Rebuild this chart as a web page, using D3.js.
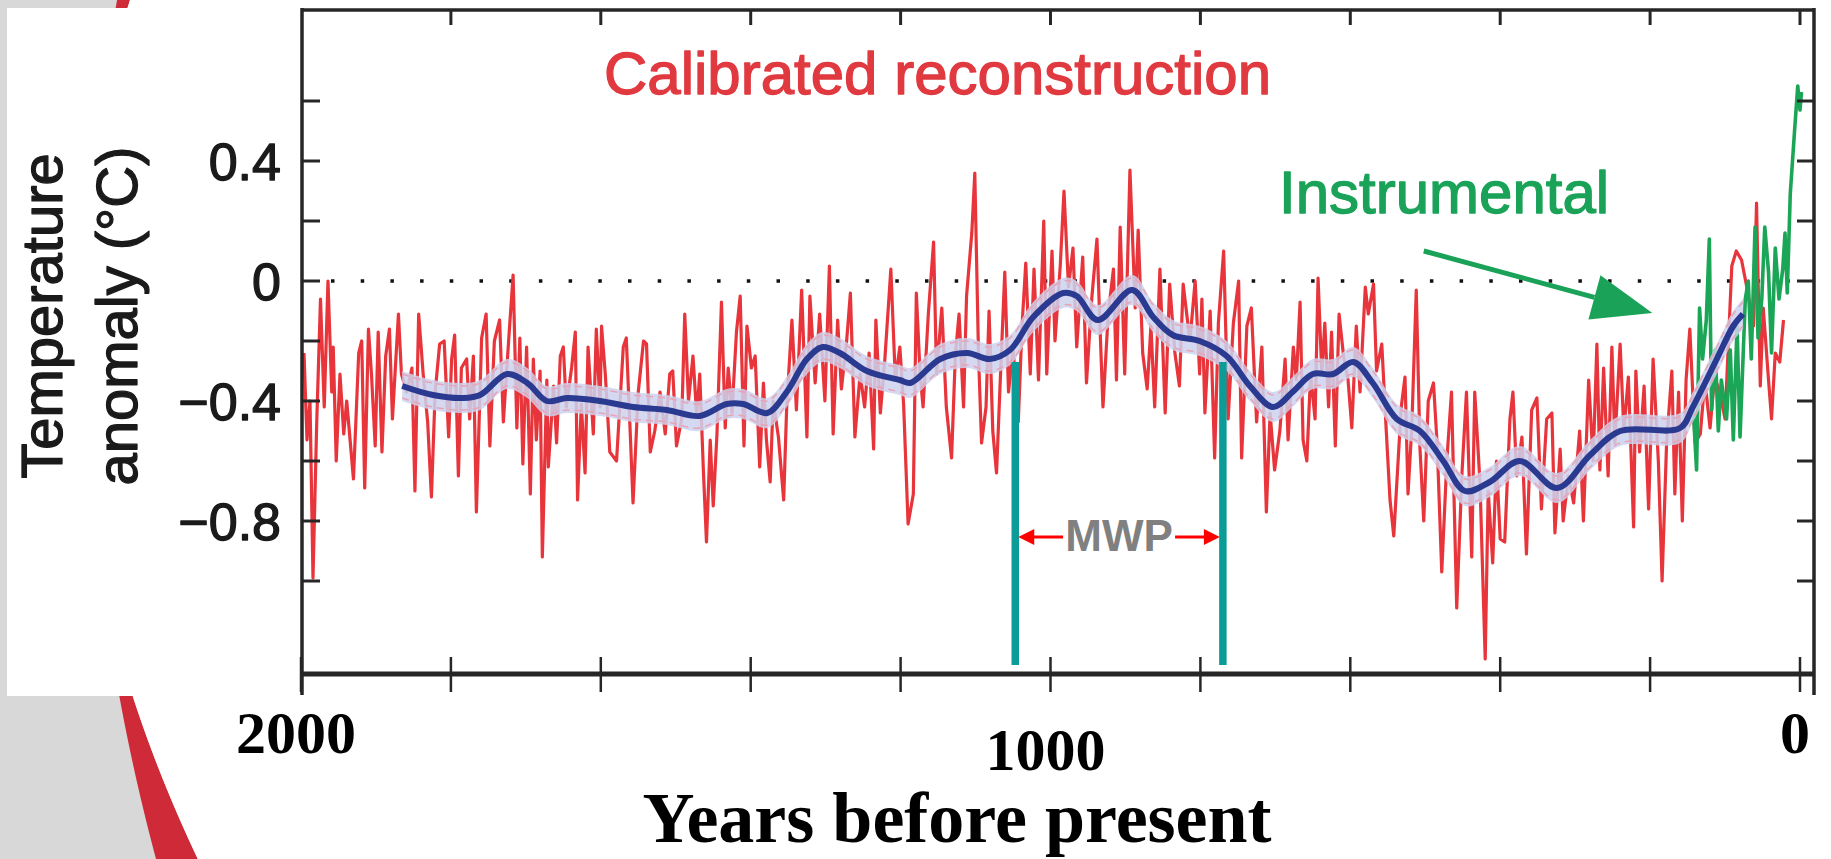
<!DOCTYPE html>
<html lang="en">
<head>
    <meta charset="UTF-8">
    <title>Calibrated reconstruction - years before present</title>
    <script src="https://d3js.org/d3.v7.min.js"></script>
    <style>
        body { margin: 0; overflow: hidden; background: #fff; }
        svg { display: block; }
        text { font-family: "Liberation Sans", Arial, Helvetica, sans-serif; }
        .serif { font-family: "Liberation Serif", "Times New Roman", serif; font-weight: bold; }
        .heavy { stroke-width: 1.3px; paint-order: stroke; stroke-linejoin: round; }
    </style>
</head>
<body>
<div id="chart"></div>

<script>
    // Size of the slide
    const width = 1831;
    const height = 859;

    // Annual reconstruction (years before present, anomaly in °C)
    const recon = [
        [1996,-0.24],[1992,-0.53],[1988,-0.40],[1984,-0.99],[1979,-0.47],[1974,-0.06],[1969,-0.42],[1964,0.00],[1959,-0.37],[1957,-0.22],
        [1953,-0.60],[1948,-0.31],[1943,-0.51],[1939,-0.40],[1930,-0.66],[1923,-0.24],[1919,-0.20],[1915,-0.69],[1910,-0.16],[1906,-0.31],
        [1901,-0.55],[1897,-0.17],[1892,-0.57],[1887,-0.25],[1882,-0.16],[1878,-0.46],[1870,-0.11],[1866,-0.31],[1859,-0.37],[1852,-0.29],
        [1848,-0.70],[1843,-0.11],[1837,-0.31],[1831,-0.47],[1826,-0.72],[1821,-0.37],[1815,-0.21],[1809,-0.20],[1803,-0.52],[1799,-0.26],
        [1795,-0.18],[1790,-0.65],[1786,-0.29],[1779,-0.26],[1775,-0.46],[1770,-0.25],[1766,-0.77],[1759,-0.19],[1753,-0.11],[1748,-0.55],
        [1742,-0.20],[1735,-0.13],[1730,-0.47],[1723,-0.20],[1717,0.02],[1712,-0.49],[1708,-0.19],[1704,-0.61],[1699,-0.22],[1694,-0.71],
        [1690,-0.26],[1686,-0.53],[1681,-0.30],[1678,-0.92],[1672,-0.33],[1670,-0.62],[1663,-0.35],[1659,-0.54],[1654,-0.25],[1650,-0.22],
        [1646,-0.42],[1639,-0.29],[1634,-0.17],[1631,-0.73],[1626,-0.41],[1621,-0.64],[1617,-0.22],[1610,-0.51],[1606,-0.16],[1601,-0.42],
        [1599,-0.15],[1594,-0.31],[1588,-0.57],[1579,-0.60],[1570,-0.22],[1566,-0.19],[1561,-0.49],[1557,-0.74],[1550,-0.37],[1543,-0.20],
        [1539,-0.21],[1534,-0.57],[1528,-0.50],[1521,-0.37],[1514,-0.51],[1508,-0.31],[1504,-0.30],[1499,-0.55],[1492,-0.46],[1488,-0.11],
        [1483,-0.40],[1477,-0.25],[1472,-0.45],[1468,-0.31],[1463,-0.64],[1459,-0.87],[1454,-0.53],[1450,-0.75],[1445,-0.51],[1439,-0.07],
        [1434,-0.49],[1430,-0.29],[1425,-0.44],[1419,-0.17],[1414,-0.05],[1409,-0.55],[1405,-0.15],[1399,-0.29],[1394,-0.25],[1388,-0.62],
        [1383,-0.34],[1379,-0.53],[1374,-0.67],[1370,-0.40],[1363,-0.52],[1356,-0.73],[1352,-0.42],[1345,-0.13],[1339,-0.43],[1332,-0.03],
        [1325,-0.52],[1321,-0.05],[1314,-0.34],[1308,-0.11],[1301,-0.40],[1295,0.05],[1290,-0.51],[1284,-0.13],[1279,-0.36],[1272,-0.20],
        [1267,-0.04],[1261,-0.52],[1254,-0.31],[1248,-0.42],[1242,-0.24],[1236,-0.56],[1233,-0.13],[1227,-0.44],[1221,-0.26],[1213,0.04],
        [1207,-0.33],[1201,-0.22],[1196,-0.41],[1190,-0.81],[1183,-0.71],[1179,-0.04],[1174,-0.31],[1170,-0.42],[1163,-0.11],[1156,0.13],
        [1152,-0.31],[1145,-0.09],[1139,-0.42],[1132,-0.59],[1127,-0.25],[1122,-0.11],[1116,-0.42],[1112,-0.05],[1105,0.16],[1101,0.36],
        [1096,-0.25],[1092,-0.54],[1086,-0.42],[1082,-0.10],[1077,-0.50],[1072,-0.64],[1067,-0.33],[1061,0.03],[1056,-0.37],[1050,-0.22],
        [1043,-0.47],[1038,-0.15],[1033,0.06],[1027,-0.31],[1022,0.04],[1016,-0.33],[1009,0.20],[1005,-0.31],[998,0.10],[994,-0.20],
        [987,0.05],[982,0.30],[976,-0.02],[970,0.11],[965,-0.22],[957,0.08],[952,-0.34],[945,-0.06],[938,0.14],[934,-0.15],
        [930,-0.42],[923,-0.11],[916,0.04],[912,-0.33],[907,0.18],[901,-0.31],[894,0.37],[887,-0.09],[883,0.17],[877,-0.24],
        [871,-0.36],[866,-0.15],[861,-0.42],[854,0.04],[847,-0.44],[841,-0.01],[834,-0.24],[828,-0.35],[823,-0.01],[814,-0.20],
        [807,0.00],[801,-0.31],[798,-0.06],[794,-0.44],[787,-0.10],[781,-0.59],[776,-0.14],[769,0.10],[763,-0.46],[756,-0.14],
        [749,0.00],[745,-0.59],[738,-0.15],[732,-0.09],[725,-0.47],[718,-0.22],[712,-0.77],[707,-0.44],[701,-0.63],[694,-0.50],
        [687,-0.26],[683,-0.53],[676,-0.22],[672,-0.33],[667,-0.07],[663,-0.53],[658,-0.60],[653,-0.31],[647,-0.46],[643,0.01],
        [638,-0.31],[634,-0.14],[629,-0.42],[625,-0.17],[620,-0.55],[615,-0.11],[609,-0.25],[603,-0.33],[598,-0.49],[592,-0.15],
        [587,-0.37],[580,-0.02],[576,-0.11],[569,-0.01],[565,-0.30],[558,-0.21],[552,-0.50],[547,-0.73],[542,-0.85],[536,-0.59],
        [532,-0.42],[527,-0.32],[523,-0.71],[518,-0.49],[512,-0.03],[507,-0.56],[502,-0.80],[496,-0.40],[489,-0.34],[484,-0.55],
        [478,-0.97],[471,-0.59],[465,-0.37],[458,-1.09],[451,-0.64],[445,-0.37],[438,-0.92],[434,-0.37],[427,-0.67],[420,-1.26],
        [416,-0.70],[410,-0.94],[405,-0.60],[400,-0.86],[394,-0.87],[387,-0.46],[383,-0.37],[378,-0.65],[371,-0.52],[365,-0.91],
        [358,-0.43],[351,-0.39],[345,-0.76],[338,-0.46],[331,-0.44],[327,-0.84],[320,-0.56],[316,-0.80],[309,-0.65],[302,-0.74],
        [294,-0.50],[289,-0.80],[282,-0.33],[276,-0.60],[271,-0.21],[267,-0.63],[262,-0.29],[256,-0.65],[251,-0.22],[247,-0.54],
        [240,-0.21],[235,-0.50],[229,-0.32],[222,-0.82],[219,-0.30],[214,-0.57],[208,-0.35],[202,-0.76],[196,-0.26],[189,-0.60],
        [184,-1.00],[178,-0.54],[171,-0.30],[167,-0.71],[162,-0.37],[157,-0.80],[152,-0.33],[147,-0.16],[140,-0.54],[133,-0.51],
        [127,-0.33],[120,-0.49],[114,-0.32],[107,-0.37],[100,-0.46],[91,0.05],[85,0.10],[78,0.07],[71,-0.02],[62,-0.15],
        [58,0.26],[53,-0.35],[49,-0.09],[42,-0.33],[38,-0.46],[33,-0.24],[27,-0.27],[22,-0.13]
    ];

    // Low-pass filtered reconstruction (blue curve)
    const smooth = [
        [1865,-0.35],[1824,-0.38],[1784,-0.39],[1761,-0.38],[1725,-0.31],[1698,-0.34],[1672,-0.40],[1645,-0.39],[1601,-0.40],[1557,-0.42],
        [1512,-0.43],[1468,-0.45],[1432,-0.41],[1410,-0.41],[1378,-0.44],[1352,-0.37],[1325,-0.26],[1304,-0.22],[1281,-0.24],[1245,-0.30],
        [1201,-0.33],[1187,-0.34],[1147,-0.26],[1111,-0.24],[1081,-0.26],[1054,-0.23],[1023,-0.12],[983,-0.04],[965,-0.05],[937,-0.13],
        [891,-0.03],[863,-0.12],[837,-0.18],[801,-0.20],[765,-0.25],[734,-0.35],[703,-0.42],[677,-0.37],[650,-0.31],[623,-0.31],
        [596,-0.27],[570,-0.34],[538,-0.46],[507,-0.50],[476,-0.60],[447,-0.70],[414,-0.67],[374,-0.60],[324,-0.69],[280,-0.58],
        [240,-0.50],[160,-0.49],[143,-0.42],[111,-0.26],[89,-0.15],[76,-0.11]
    ];
    const bandHalf = 0.05;

    // Instrumental record (green)
    const instrumental = [
        [143,-0.40],[138,-0.63],[134,-0.09],[130,-0.26],[125,-0.13],[121,0.14],[118,-0.43],[113,-0.23],[109,-0.50],[105,-0.33],
        [98,-0.46],[93,-0.23],[89,-0.53],[84,-0.15],[80,-0.52],[73,-0.06],[69,0.00],[65,-0.26],[60,0.18],[56,-0.19],
        [51,-0.06],[47,0.18],[42,0.03],[38,-0.24],[33,0.11],[28,-0.06],[23,0.04],[20,0.16],[17,-0.04],[13,0.29],
        [10,0.40],[7,0.51],[3,0.65],[0,0.57],[-2,0.63]
    ];

    // Axes
    const yTicks = [-1.0, -0.8, -0.6, -0.4, -0.2, 0, 0.2, 0.4, 0.6];
    const yLabels = [0.4, 0, -0.4, -0.8];
    const xTicks = [2000, 1800, 1600, 1400, 1200, 1000, 800, 600, 400, 200, 0];
    const xLabels = [2000, 1000, 0];
    const mwp = [1047, 770];

    const svg = d3.select("#chart").append("svg")
        .attr("width", width)
        .attr("height", height);

    // Slide background: grey side, red swoosh, white page
    svg.append("rect").attr("width", width).attr("height", height).attr("fill", "#d8d8d8");
    const edge = (x0, cy, k) => yy => x0 + (yy - cy) * (yy - cy) / k;
    const leftEdge = edge(86.9, 341.7, 3873);
    const rightEdge = edge(75.5, 343.8, 2170);
    const ys = d3.range(0, height + 10, 10);
    svg.append("path")
        .attr("d", "M" + ys.map(v => [leftEdge(v), v]).join("L") + "L" + ys.slice().reverse().map(v => [rightEdge(v), v]).join("L") + "Z")
        .attr("fill", "#cf2a37");
    svg.append("path")
        .attr("d", "M" + ys.map(v => [rightEdge(v), v]).join("L") + `L${width},${height}L${width},0Z`)
        .attr("fill", "#fff");
    svg.append("rect").attr("x", 7).attr("y", 8).attr("width", width - 7).attr("height", 688).attr("fill", "#fff");

    // Scales
    const x = d3.scaleLinear().domain([2000, 0]).range([301, 1800]);
    const y = d3.scaleLinear().domain([-1.0, 0.6]).range([581, 101]);
    const frame = { left: 302, right: 1814, top: 10, bottom: 674 };

    const line = d3.line().x(d => x(d[0])).y(d => y(d[1]));
    const smoothLine = d3.line().x(d => x(d[0])).y(d => y(d[1])).curve(d3.curveCatmullRom);

    // Zero line (dotted)
    svg.append("line")
        .attr("x1", 331).attr("x2", frame.right)
        .attr("y1", y(0)).attr("y2", y(0))
        .attr("stroke", "#111").attr("stroke-width", 3.5)
        .attr("stroke-dasharray", "3.5 26.2");

    // Reconstruction and instrumental series
    svg.append("path").datum(recon)
        .attr("d", line).attr("fill", "none")
        .attr("stroke", "#e8353b").attr("stroke-width", 3.2).attr("stroke-linejoin", "round");

    svg.append("path").datum(instrumental)
        .attr("d", line).attr("fill", "none")
        .attr("stroke", "#1ba556").attr("stroke-width", 3.6).attr("stroke-linejoin", "round");

    // Uncertainty band + smoothed curve
    const band = d3.area()
        .x(d => x(d[0]))
        .y0(d => y(d[1] - bandHalf))
        .y1(d => y(d[1] + bandHalf))
        .curve(d3.curveCatmullRom);
    svg.append("path").datum(smooth)
        .attr("d", band).attr("fill", "#cdd2ef").attr("opacity", 0.85);
    [-1, 1].forEach(s => {
        svg.append("path").datum(smooth.map(d => [d[0], d[1] + s * bandHalf * 0.8]))
            .attr("d", smoothLine).attr("fill", "none")
            .attr("stroke", "#e9a3b6").attr("stroke-width", 1.5)
            .attr("stroke-dasharray", "7 5");
    });
    svg.append("path").datum(smooth)
        .attr("d", smoothLine).attr("fill", "none")
        .attr("stroke", "#2b3a91").attr("stroke-width", 6);

    // MWP markers
    mwp.forEach(yr => {
        svg.append("line")
            .attr("x1", x(yr)).attr("x2", x(yr))
            .attr("y1", y(-0.27)).attr("y2", y(-1.28))
            .attr("stroke", "#0c9c98").attr("stroke-width", 7.5);
    });
    const mwpY = y(-0.853);
    const mwpMid = x(d3.mean(mwp));
    svg.append("text")
        .attr("x", mwpMid).attr("y", mwpY + 14)
        .attr("text-anchor", "middle")
        .attr("font-size", 44).attr("font-weight", "bold")
        .attr("fill", "#808080")
        .text("MWP");
    const redArrow = (from, tip) => {
        const dir = Math.sign(tip - from);
        svg.append("line")
            .attr("x1", from).attr("x2", tip - dir * 10)
            .attr("y1", mwpY).attr("y2", mwpY)
            .attr("stroke", "#ff0000").attr("stroke-width", 3);
        svg.append("path")
            .attr("d", `M${tip},${mwpY}L${tip - dir * 16},${mwpY - 8}L${tip - dir * 16},${mwpY + 8}Z`)
            .attr("fill", "#ff0000");
    };
    redArrow(mwpMid - 56, x(mwp[0]) + 3);
    redArrow(mwpMid + 56, x(mwp[1]) - 3);

    // Labels inside the plot
    svg.append("text")
        .attr("class", "heavy")
        .attr("x", 604).attr("y", 94)
        .attr("font-size", 60).attr("fill", "#e0393f").attr("stroke", "#e0393f")
        .text("Calibrated reconstruction");
    svg.append("text")
        .attr("class", "heavy")
        .attr("x", 1279).attr("y", 213)
        .attr("font-size", 60).attr("fill", "#1aa358").attr("stroke", "#1aa358")
        .text("Instrumental");

    // Green arrow
    const aFrom = [x(502), y(0.10)];
    const aTip = [x(197), y(-0.107)];
    const len = Math.hypot(aTip[0] - aFrom[0], aTip[1] - aFrom[1]);
    const ux = (aTip[0] - aFrom[0]) / len, uy = (aTip[1] - aFrom[1]) / len;
    const base = [aTip[0] - ux * 60, aTip[1] - uy * 60];
    svg.append("line")
        .attr("x1", aFrom[0]).attr("y1", aFrom[1])
        .attr("x2", base[0]).attr("y2", base[1])
        .attr("stroke", "#1aa358").attr("stroke-width", 5);
    svg.append("path")
        .attr("d", `M${aTip}L${base[0] - uy * 23},${base[1] + ux * 23}L${base[0] + uy * 23},${base[1] - ux * 23}Z`)
        .attr("fill", "#1aa358");

    // Frame
    const axisColor = "#262626";
    const g = svg.append("g").attr("stroke", axisColor).attr("fill", "none");
    g.append("line").attr("x1", frame.left).attr("x2", frame.left).attr("y1", frame.top - 2).attr("y2", 695).attr("stroke-width", 3.5);
    g.append("line").attr("x1", frame.right).attr("x2", frame.right).attr("y1", frame.top - 2).attr("y2", 695).attr("stroke-width", 3.5);
    g.append("line").attr("x1", frame.left).attr("x2", frame.right).attr("y1", frame.top).attr("y2", frame.top).attr("stroke-width", 3.5);
    g.append("line").attr("x1", frame.left).attr("x2", frame.right).attr("y1", frame.bottom).attr("y2", frame.bottom).attr("stroke-width", 5);

    // Ticks
    yTicks.forEach(v => {
        g.append("line").attr("x1", frame.left).attr("x2", frame.left + 18).attr("y1", y(v)).attr("y2", y(v)).attr("stroke-width", 3);
        g.append("line").attr("x1", frame.right).attr("x2", frame.right - 17).attr("y1", y(v)).attr("y2", y(v)).attr("stroke-width", 3);
    });
    xTicks.forEach(t => {
        if (t !== 2000) {
            g.append("line").attr("x1", x(t)).attr("x2", x(t)).attr("y1", frame.top).attr("y2", frame.top + 15).attr("stroke-width", 3);
        }
        g.append("line").attr("x1", x(t)).attr("x2", x(t)).attr("y1", frame.bottom - 17).attr("y2", frame.bottom + 18).attr("stroke-width", 2.5);
    });

    // Tick labels
    const fmt = v => v === 0 ? "0" : d3.format(".1f")(v);
    svg.append("g").selectAll("text")
        .data(yLabels)
        .enter().append("text")
        .attr("class", "heavy")
        .attr("x", 281)
        .attr("y", d => y(d) + 19)
        .attr("text-anchor", "end")
        .attr("font-size", 52)
        .attr("fill", "#1a1a1a").attr("stroke", "#1a1a1a")
        .text(fmt);

    svg.append("g").selectAll("text")
        .data(xLabels)
        .enter().append("text")
        .attr("class", "serif")
        .attr("x", d => x(d) - 5)
        .attr("y", d => d === 1000 ? 770 : 753)
        .attr("text-anchor", "middle")
        .attr("font-size", 60)
        .attr("fill", "#000")
        .text(d => d);

    // Axis titles
    svg.append("text")
        .attr("class", "serif")
        .attr("x", 957).attr("y", 842)
        .attr("text-anchor", "middle")
        .attr("font-size", 72)
        .attr("fill", "#000")
        .text("Years before present");

    const yTitle = svg.append("g").attr("fill", "#1a1a1a").attr("stroke", "#1a1a1a");
    yTitle.append("text")
        .attr("class", "heavy")
        .attr("transform", "translate(62,316) rotate(-90)")
        .attr("text-anchor", "middle").attr("font-size", 58)
        .text("Temperature");
    yTitle.append("text")
        .attr("class", "heavy")
        .attr("transform", "translate(137,316) rotate(-90)")
        .attr("text-anchor", "middle").attr("font-size", 58)
        .text("anomaly (°C)");
</script>
</body>
</html>
